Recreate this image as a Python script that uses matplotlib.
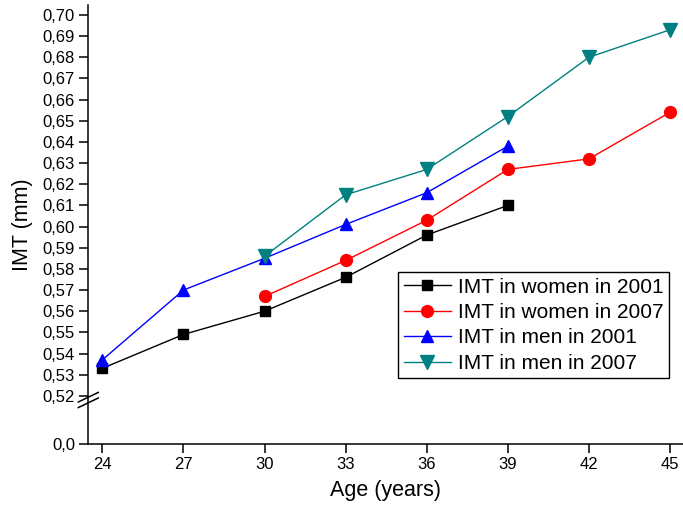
import numpy as np
import matplotlib
matplotlib.use("Agg")
import matplotlib.pyplot as plt
from matplotlib.ticker import FixedLocator, FuncFormatter

# age groups (years) and IMT values (mm)
age_women_2001 = [24, 27, 30, 33, 36, 39]
imt_women_2001 = [0.533, 0.549, 0.560, 0.576, 0.596, 0.610]

age_women_2007 = [30, 33, 36, 39, 42, 45]
imt_women_2007 = [0.567, 0.584, 0.603, 0.627, 0.632, 0.654]

age_men_2001 = [24, 27, 30, 33, 36, 39]
imt_men_2001 = [0.537, 0.570, 0.585, 0.601, 0.616, 0.638]

age_men_2007 = [30, 33, 36, 39, 42, 45]
imt_men_2007 = [0.586, 0.615, 0.627, 0.652, 0.680, 0.693]

x_ticks = [24, 27, 30, 33, 36, 39, 42, 45]
y_ticks = [0.0] + [round(0.52 + 0.01 * i, 2) for i in range(19)]

plt.rcParams['font.family'] = ['Liberation Sans', 'DejaVu Sans']

# broken y axis: everything below the break is squeezed into a short stub
BREAK = 0.518
SQUEEZE = 0.0398


def forward(v):
    v = np.asarray(v, dtype=float)
    return np.where(v >= BREAK, v, BREAK - (BREAK - v) * SQUEEZE)


def inverse(v):
    v = np.asarray(v, dtype=float)
    return np.where(v >= BREAK, v, BREAK - (BREAK - v) / SQUEEZE)


def comma_fmt(v, pos):
    if abs(v) < 1e-9:
        return "0,0"
    return f"{v:.2f}".replace('.', ',')


fig = plt.figure(figsize=(6.83, 5.17), dpi=100)
ax = fig.add_axes([0.1293, 0.1418, 0.8707, 0.8485])

ax.plot(age_women_2001, imt_women_2001, color='black', lw=1, marker='s',
        ms=7, label='IMT in women in 2001')
ax.plot(age_women_2007, imt_women_2007, color='red', lw=1, marker='o',
        ms=8.5, label='IMT in women in 2007')
ax.plot(age_men_2001, imt_men_2001, color='blue', lw=1, marker='^',
        ms=9, label='IMT in men in 2001')
ax.plot(age_men_2007, imt_men_2007, color='#008080', lw=1, marker='v',
        ms=9.5, label='IMT in men in 2007')

ax.set_yscale('function', functions=(forward, inverse))
ax.set_ylim(0.0, 0.7047)
ax.set_xlim(23.48, 45.48)

ax.xaxis.set_major_locator(FixedLocator(x_ticks))
ax.yaxis.set_major_locator(FixedLocator(y_ticks))
ax.yaxis.set_major_formatter(FuncFormatter(comma_fmt))
ax.minorticks_off()

ax.spines['top'].set_visible(False)
ax.spines['right'].set_visible(False)
ax.spines['left'].set_linewidth(1.1)
ax.spines['bottom'].set_linewidth(1.1)
ax.tick_params(axis='both', direction='out', length=6.5, width=1.1,
               labelsize=12, pad=3)

ax.set_xlabel('Age (years)', fontsize=15.5, labelpad=6)
ax.set_ylabel('IMT (mm)', fontsize=15.5, labelpad=7)

# the "//" break marks across the y axis
yb = (443.7 - 400) / 438.7
dx = 10 / 594.7
dy = 4.8 / 438.7
gap = 2.8 / 438.7
for off in (gap, -gap):
    ax.plot([-dx, dx], [yb + off - dy, yb + off + dy], color='black', lw=1.1,
            transform=ax.transAxes, clip_on=False)

leg = ax.legend(loc='upper left', bbox_to_anchor=(0.5832, 0.4733),
                bbox_transform=fig.transFigure, borderaxespad=0,
                fontsize=15, fancybox=False, framealpha=1, edgecolor='black',
                handlelength=2.3, handletextpad=0.3, labelspacing=0.31,
                borderpad=0.25)
leg.get_frame().set_linewidth(1)

plt.savefig('out.png', dpi=100)
